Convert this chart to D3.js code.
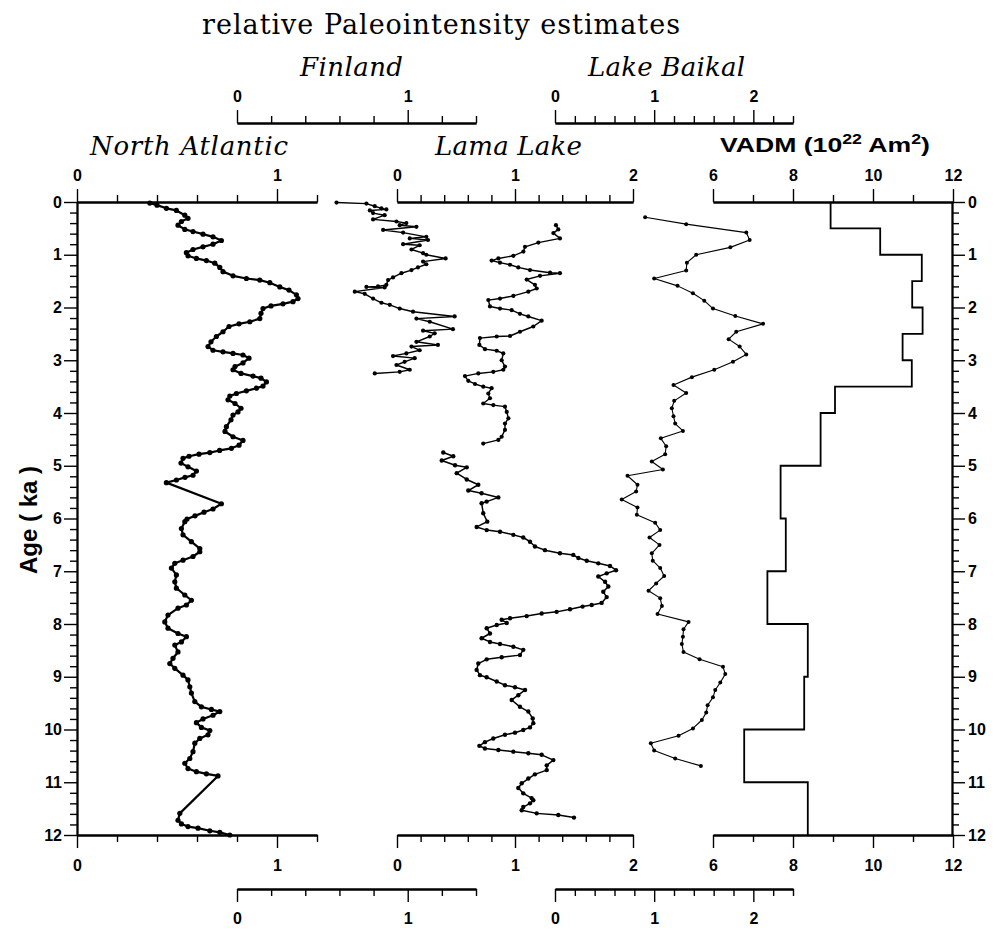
<!DOCTYPE html>
<html>
<head>
<meta charset="utf-8">
<script src="https://cdn.jsdelivr.net/npm/d3@7"></script>
<style>
  html, body { margin: 0; padding: 0; background: #fff; }
  svg { display: block; }
</style>
</head>
<body>
<svg id="chart" width="996" height="930"></svg>
<script>
// ---------------- DATA ----------------
// [age (ka), value]
const northAtlantic = [[0.02,.364],[.06,.40],[.12,.447],[.16,.497],[.25,.539],[.31,.555],[.37,.522],[.44,.505],[.52,.539],[.56,.58],[.61,.63],[.66,.68],[.73,.722],[.80,.68],[.85,.63],[.90,.58],[.96,.547],[1.02,.555],[1.07,.597],[1.11,.647],[1.16,.689],[1.24,.714],[1.32,.73],[1.40,.78],[1.45,.847],[1.48,.914],[1.53,.964],[1.61,1.014],[1.67,1.06],[1.76,1.097],[1.83,1.105],[1.89,1.08],[1.93,1.03],[1.97,.97],[2.02,.93],[2.11,.92],[2.21,.914],[2.27,.864],[2.31,.81],[2.36,.76],[2.46,.73],[2.55,.697],[2.65,.67],[2.74,.655],[2.81,.68],[2.84,.73],[2.87,.78],[2.90,.83],[2.96,.86],[3.05,.83],[3.12,.79],[3.18,.78],[3.25,.82],[3.30,.88],[3.34,.92],[3.41,.947],[3.49,.93],[3.53,.897],[3.58,.847],[3.63,.797],[3.68,.764],[3.75,.755],[3.82,.79],[3.91,.82],[3.98,.805],[4.04,.78],[4.13,.77],[4.26,.747],[4.35,.74],[4.45,.78],[4.52,.83],[4.61,.81],[4.67,.772],[4.71,.713],[4.75,.664],[4.78,.61],[4.82,.56],[4.86,.53],[4.95,.52],[5.02,.555],[5.10,.597],[5.18,.58],[5.22,.54],[5.27,.497],[5.32,.447],[5.72,.722],[5.82,.68],[5.88,.635],[5.95,.59],[6.01,.55],[6.06,.539],[6.19,.522],[6.31,.53],[6.44,.572],[6.57,.614],[6.63,.614],[6.72,.58],[6.79,.53],[6.85,.489],[6.94,.472],[7.07,.497],[7.20,.489],[7.32,.497],[7.45,.539],[7.55,.572],[7.64,.547],[7.70,.505],[7.83,.455],[7.96,.439],[8.08,.455],[8.18,.505],[8.24,.547],[8.34,.522],[8.40,.489],[8.53,.505],[8.65,.48],[8.75,.464],[8.84,.489],[8.97,.53],[9.06,.555],[9.19,.564],[9.31,.572],[9.47,.589],[9.57,.622],[9.62,.672],[9.66,.714],[9.73,.68],[9.80,.63],[9.87,.597],[9.96,.622],[10.02,.664],[10.10,.655],[10.17,.614],[10.26,.589],[10.42,.58],[10.55,.564],[10.64,.539],[10.74,.555],[10.80,.597],[10.84,.647],[10.88,.705],[11.59,.514],[11.72,.505],[11.79,.522],[11.84,.555],[11.87,.605],[11.92,.664],[11.95,.714],[12.0,.764]];

const finland = [[.01,.583],[.03,.758],[.08,.807],[.12,.846],[.14,.875],[.16,.778],[.21,.797],[.25,.865],[.33,.797],[.37,.934],[.40,.992],[.44,.953],[.47,1.051],[.53,.856],[.58,.973],[.66,1.109],[.69,1.012],[.72,1.119],[.80,.973],[.82,1.07],[.90,1.022],[.97,1.09],[1.00,1.109],[1.07,1.222],[1.13,1.09],[1.18,1.109],[1.24,1.06],[1.29,1.022],[1.35,.963],[1.43,.914],[1.48,.885],[1.57,.875],[1.60,.826],[1.61,.758],[1.62,.865],[1.70,.69],[1.74,.748],[1.83,.797],[1.91,.846],[1.95,.895],[2.02,.953],[2.08,1.031],[2.17,1.275],[2.21,1.051],[2.27,1.129],[2.41,1.265],[2.44,1.09],[2.49,1.158],[2.55,1.129],[2.65,1.051],[2.71,1.177],[2.74,1.022],[2.81,1.07],[2.87,.992],[2.92,.914],[2.96,1.041],[3.03,.982],[3.09,.934],[3.18,1.012],[3.22,.953],[3.25,.807]];

const lamaLakeA = [[.44,1.347],[.52,1.367],[.59,1.325],[.69,1.381],[.77,1.198],[.85,1.085],[.94,1.071],[1.02,.986],[1.07,.859],[1.11,.802],[1.15,.873],[1.19,.958],[1.24,1.028],[1.29,1.127],[1.34,1.297],[1.35,1.381],[1.40,1.212],[1.47,1.099],[1.57,1.169],[1.64,1.184],[1.70,1.113],[1.78,.986],[1.83,.873],[1.86,.774],[1.98,.788],[2.02,.873],[2.05,.972],[2.12,1.042],[2.17,1.113],[2.25,1.226],[2.36,1.155],[2.46,1.042],[2.54,.958],[2.55,.845],[2.58,.703],[2.71,.698],[2.79,.746],[2.82,.845],[2.87,.901],[3.00,.887],[3.12,.915],[3.18,.901],[3.22,.816],[3.25,.689],[3.30,.576],[3.39,.604],[3.45,.661],[3.50,.731],[3.53,.802],[3.63,.774],[3.72,.788],[3.82,.731],[3.85,.816],[3.88,.915],[3.98,.93],[4.10,.944],[4.20,.915],[4.32,.915],[4.45,.887],[4.51,.859],[4.58,.731]];

const lamaLakeB = [[4.75,.392],[4.82,.477],[4.90,.379],[4.99,.492],[5.03,.591],[5.14,.506],[5.26,.591],[5.36,.689],[5.47,.604],[5.52,.717],[5.60,.859],[5.68,.760],[5.71,.717],[5.90,.731],[6.06,.765],[6.16,.675],[6.22,.760],[6.25,.873],[6.31,.986],[6.36,1.070],[6.44,1.127],[6.53,1.169],[6.60,1.254],[6.66,1.381],[6.69,1.494],[6.75,1.537],[6.80,1.608],[6.85,1.706],[6.90,1.805],[6.98,1.856],[7.04,1.777],[7.10,1.706],[7.20,1.763],[7.29,1.791],[7.39,1.748],[7.49,1.777],[7.60,1.734],[7.64,1.650],[7.67,1.573],[7.72,1.466],[7.77,1.353],[7.80,1.226],[7.85,1.099],[7.89,.958],[7.92,.887],[7.98,.930],[8.02,.845],[8.08,.760],[8.18,.788],[8.27,.717],[8.34,.788],[8.38,.873],[8.43,.986],[8.49,1.070],[8.59,1.042],[8.63,.887],[8.67,.760],[8.75,.689],[8.87,.675],[8.97,.703],[9.01,.760],[9.09,.845],[9.16,.915],[9.20,1.0],[9.25,1.085],[9.35,1.028],[9.44,.972],[9.57,1.042],[9.66,1.113],[9.79,1.150],[9.88,1.155],[9.96,1.127],[10.01,1.070],[10.06,1.0],[10.10,.915],[10.17,.816],[10.24,.745],[10.31,.698],[10.36,.745],[10.39,.859],[10.42,.986],[10.45,1.113],[10.48,1.226],[10.58,1.325],[10.68,1.269],[10.77,1.269],[10.85,1.169],[10.93,1.113],[11.02,1.057],[11.11,1.028],[11.21,1.070],[11.30,1.141],[11.34,1.155],[11.40,1.127],[11.47,1.070],[11.53,1.057],[11.59,1.184],[11.62,1.367],[11.67,1.500]];

const lakeBaikal = [[.29,.909],[.42,1.323],[.58,1.929],[.72,1.963],[.86,1.768],[1.00,1.424],[1.15,1.330],[1.30,1.323],[1.45,1.0],[1.59,1.236],[1.73,1.391],[1.87,1.505],[2.02,1.593],[2.16,1.818],[2.31,2.098],[2.46,1.828],[2.60,1.751],[2.74,1.862],[2.89,1.929],[3.03,1.795],[3.18,1.606],[3.32,1.380],[3.47,1.195],[3.62,1.323],[3.77,1.202],[3.91,1.178],[4.06,1.195],[4.20,1.212],[4.34,1.290],[4.48,1.067],[4.63,1.121],[4.78,1.111],[4.92,.976],[5.07,1.088],[5.19,.731],[5.36,.832],[5.49,.818],[5.64,.673],[5.79,.832],[5.93,.825],[6.08,1.010],[6.22,1.061],[6.36,.953],[6.50,1.054],[6.66,.976],[6.80,.986],[6.94,1.061],[7.09,1.101],[7.23,1.020],[7.37,.943],[7.51,1.061],[7.66,1.078],[7.81,1.034],[7.96,1.347],[8.10,1.296],[8.24,1.290],[8.38,1.279],[8.53,1.296],[8.67,1.458],[8.81,1.694],[8.95,1.717],[9.11,1.667],[9.25,1.616],[9.39,1.593],[9.54,1.539],[9.68,1.525],[9.82,1.481],[9.98,1.391],[10.12,1.246],[10.26,.966],[10.40,1.0],[10.55,1.212],[10.69,1.471]];

const vadmBounds = [0,0.5,1,1.5,2,2.5,3,3.5,4,5,6,7,8,9,10,11,12];
const vadmValues = [8.94,10.18,11.22,10.98,11.24,10.74,10.97,9.05,8.69,7.69,7.82,7.36,8.37,8.28,6.78,8.37];

const ageTicks = [0,1,2,3,4,5,6,7,8,9,10,11,12];
const naTicks = [0,1];
const lamaTicks = [0,1,2];
const vadmTicks = [6,8,10,12];
const finlandTicks = [0,1];
const baikalTicks = [0,1,2];

// ---------------- DRAW ----------------
const svg = d3.select('#chart');
svg.append('rect').attr('width', 996).attr('height', 930).attr('fill', '#fff');

const yTop = 202, yBot = 835;
const age = d3.scaleLinear().domain([0, 12]).range([yTop, yBot]);
const xNA = d3.scaleLinear().domain([0, 1.2]).range([77, 317]);
const xLama = d3.scaleLinear().domain([0, 2]).range([397, 633]);
const xVADM = d3.scaleLinear().domain([6, 12]).range([713, 953]);
const xFin = d3.scaleLinear().domain([0, 1.4]).range([237, 476]);
const xBai = d3.scaleLinear().domain([0, 2.4]).range([555, 793]);

const tickFont = '"Liberation Sans", Arial, sans-serif';

function minorsOf(domain, step, majors) {
  const n = Math.round((domain[1] - domain[0]) / step);
  return d3.range(n + 1).map(i => +(domain[0] + i * step).toFixed(4))
    .filter(v => !majors.some(m => Math.abs(m - v) < 1e-6));
}

function drawAxis(orient, scale, majors, step, pos, pad) {
  const mk = {top: d3.axisTop, bottom: d3.axisBottom, left: d3.axisLeft, right: d3.axisRight}[orient];
  const horiz = orient === 'top' || orient === 'bottom';
  const tr = horiz ? `translate(0,${pos})` : `translate(${pos},0)`;
  const minors = minorsOf(scale.domain(), step, majors);
  const g1 = svg.append('g').attr('transform', tr)
    .call(mk(scale).tickValues(minors).tickSize(7).tickSizeOuter(0).tickFormat(''));
  const g2 = svg.append('g').attr('transform', tr)
    .call(mk(scale).tickValues(majors).tickSize(13).tickSizeOuter(0).tickPadding(pad).tickFormat(d3.format('d')));
  [g1, g2].forEach(g => {
    g.select('.domain').attr('stroke', '#000').attr('stroke-width', 1.8);
    g.selectAll('.tick line').attr('stroke', '#000').attr('stroke-width', 1.4);
    g.selectAll('.tick text').attr('fill', '#000')
      .style('font-family', tickFont).style('font-weight', 'bold').style('font-size', '16px');
  });
  return g2;
}

// Age axes
drawAxis('left', age, ageTicks, 0.2, 77, 2);
drawAxis('right', age, ageTicks, 0.2, 952, 3);

// Top axes of the three panels
drawAxis('top', xNA, naTicks, 0.2, yTop, 8);
drawAxis('top', xLama, lamaTicks, 0.2, yTop, 8);
drawAxis('top', xVADM, vadmTicks, 1, yTop, 8);
// Bottom axes
drawAxis('bottom', xNA, naTicks, 0.2, yBot, 12);
drawAxis('bottom', xLama, lamaTicks, 0.2, yBot, 12);
drawAxis('bottom', xVADM, vadmTicks, 1, yBot, 12);

// Finland / Baikal axes (above and below)
drawAxis('top', xFin, finlandTicks, 0.2, 123, 8);
drawAxis('top', xBai, baikalTicks, 0.2, 123, 8);
drawAxis('bottom', xFin, finlandTicks, 0.2, 889, 11);
drawAxis('bottom', xBai, baikalTicks, 0.2, 889, 11);

// Series
function drawSeries(data, xs, lineW, r) {
  const line = d3.line().x(d => xs(d[1])).y(d => age(d[0]));
  svg.append('path').datum(data).attr('d', line)
    .attr('fill', 'none').attr('stroke', '#000').attr('stroke-width', lineW).attr('stroke-linejoin', 'round');
  svg.append('g').selectAll('circle').data(data).join('circle')
    .attr('cx', d => xs(d[1])).attr('cy', d => age(d[0])).attr('r', r).attr('fill', '#000');
}
drawSeries(northAtlantic, xNA, 2.2, 2.6);
drawSeries(finland, xFin, 1.4, 2.1);
drawSeries(lamaLakeA, xLama, 1.4, 2.1);
drawSeries(lamaLakeB, xLama, 1.5, 2.2);
drawSeries(lakeBaikal, xBai, 1.1, 2.0);

// VADM step curve
const stepPts = [];
vadmValues.forEach((v, i) => { stepPts.push([vadmBounds[i], v]); stepPts.push([vadmBounds[i + 1], v]); });
svg.append('path').datum(stepPts)
  .attr('d', d3.line().x(d => xVADM(d[1])).y(d => age(d[0])))
  .attr('fill', 'none').attr('stroke', '#000').attr('stroke-width', 1.8);

// Titles
const serif = '"DejaVu Serif", "Liberation Serif", serif';
svg.append('text').attr('x', 202).attr('y', 34)
  .attr('textLength', 478).attr('lengthAdjust', 'spacing')
  .style('font-family', serif).style('font-size', '27px').text('relative Paleointensity estimates');

function seriesLabel(text, x, y, len) {
  svg.append('text').attr('x', x).attr('y', y)
    .attr('textLength', len).attr('lengthAdjust', 'spacing')
    .style('font-family', serif).style('font-style', 'italic').style('font-size', '26px').text(text);
}
seriesLabel('Finland', 300, 76, 103);
seriesLabel('Lake Baikal', 588, 76, 157);
seriesLabel('North Atlantic', 90, 155, 198);
seriesLabel('Lama Lake', 435, 155, 147);

const vt = svg.append('text').attr('x', 720).attr('y', 152)
  .attr('textLength', 210).attr('lengthAdjust', 'spacingAndGlyphs')
  .style('font-family', tickFont).style('font-weight', 'bold').style('font-size', '21px');
vt.append('tspan').text('VADM (10');
vt.append('tspan').attr('dy', -8).style('font-size', '14px').text('22');
vt.append('tspan').attr('dy', 8).text(' Am');
vt.append('tspan').attr('dy', -8).style('font-size', '14px').text('2');
vt.append('tspan').attr('dy', 8).text(')');

svg.append('text').attr('transform', 'translate(37,520) rotate(-90)')
  .attr('text-anchor', 'middle')
  .style('font-family', tickFont).style('font-weight', 'bold').style('font-size', '24px')
  .text('Age ( ka )');
</script>
</body>
</html>
